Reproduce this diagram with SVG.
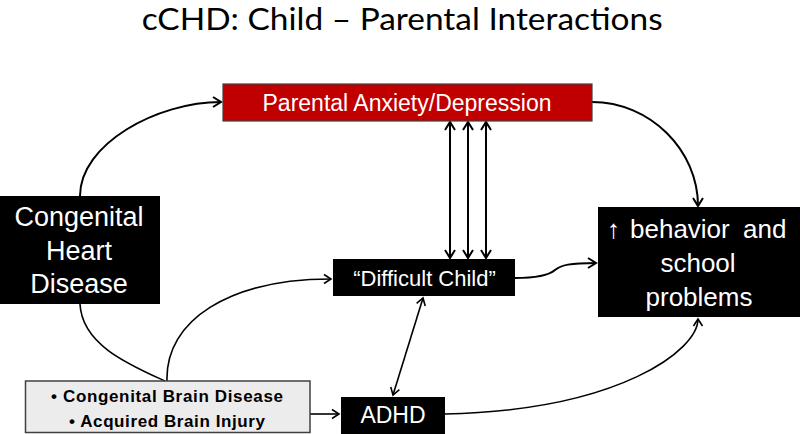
<svg xmlns="http://www.w3.org/2000/svg" width="800" height="434" viewBox="0 0 800 434">
<style>
.title{font-family:Lato,"Open Sans",sans-serif;font-size:30px;fill:#000}
.wt{font-family:"Liberation Sans",Arial,sans-serif;fill:#fff;text-anchor:middle}
.bt{font-family:"Liberation Sans",Arial,sans-serif;font-weight:bold;font-size:17px;fill:#000;text-anchor:middle}
.blk{fill:#000}
.c{fill:none;stroke:#000;stroke-width:2}
.t{fill:none;stroke:#000;stroke-width:1.6}
</style>
<defs>
<marker id="arr" viewBox="-10 -7 12 14" refX="0" refY="0" markerWidth="12" markerHeight="14" markerUnits="userSpaceOnUse" orient="auto-start-reverse">
<path d="M-8,-5 L0,0 L-8,5" fill="none" stroke="#000" stroke-width="2"/>
</marker>
<marker id="arrs" viewBox="-10 -7 12 14" refX="0" refY="0" markerWidth="12" markerHeight="14" markerUnits="userSpaceOnUse" orient="auto-start-reverse">
<path d="M-7,-4.5 L0,0 L-7,4.5" fill="none" stroke="#000" stroke-width="1.6"/>
</marker>
</defs>
<rect width="800" height="434" fill="#fff"/>
<text class="title" x="141.7" y="30" textLength="521" lengthAdjust="spacingAndGlyphs">cCHD: Child – Parental Interactions</text>

<g id="connectors">
<path class="c" d="M80,196 C80,144 157,102 221,102" marker-end="url(#arr)"/>
<path class="c" d="M592,102 C650,102 698,150 698,206" marker-end="url(#arr)"/>
<path class="c" d="M450,122 L450,258" marker-start="url(#arr)" marker-end="url(#arr)"/>
<path class="c" d="M468,122 L468,258" marker-start="url(#arr)" marker-end="url(#arr)"/>
<path class="c" d="M486,122 L486,258" marker-start="url(#arr)" marker-end="url(#arr)"/>
<path class="c" d="M515,278 C535,278 548,276 555,270 C561,265 570,263 596,263" marker-end="url(#arr)"/>
<path class="t" d="M80,304 C82,345 130,365 165,381"/>
<path class="t" d="M167,381 C165,320 230,279 331,279" marker-end="url(#arrs)"/>
<path class="t" d="M423,298 L393,395" marker-start="url(#arrs)" marker-end="url(#arrs)"/>
<path class="t" d="M310,414 L339,414" marker-end="url(#arrs)"/>
<path class="t" d="M445,414 C620,410 698,350 698,319" marker-end="url(#arrs)"/>
</g>

<g id="parental">
<rect x="223" y="84" width="369" height="37" fill="#c00000" stroke="#404040" stroke-width="1.2"/>
<text class="wt" x="407" y="111" font-size="23">Parental Anxiety/Depression</text>
</g>

<g id="chd">
<rect class="blk" x="0" y="196" width="160" height="108"/>
<text class="wt" font-size="27"><tspan x="79" y="226">Congenital</tspan><tspan x="79" y="260">Heart</tspan><tspan x="79" y="293">Disease</tspan></text>
</g>

<g id="difficult">
<rect class="blk" x="333" y="259" width="182" height="37"/>
<text class="wt" x="424.5" y="286" font-size="22">“Difficult Child”</text>
</g>

<g id="behavior">
<rect class="blk" x="598" y="207" width="202" height="110"/>
<text class="wt" font-size="26" style="text-anchor:start"><tspan x="607" y="238">↑</tspan><tspan x="630" y="238">behavior</tspan><tspan x="743" y="238">and</tspan></text>
<text class="wt" font-size="26"><tspan x="698" y="272">school</tspan><tspan x="699" y="305.5">problems</tspan></text>
</g>

<g id="brain">
<rect x="25.5" y="381" width="284.5" height="51.5" fill="#ececec" stroke="#404040" stroke-width="1.5"/>
<text class="bt" x="167" y="402.3" textLength="232" lengthAdjust="spacing">• Congenital Brain Disease</text>
<text class="bt" x="167" y="426.5" textLength="196" lengthAdjust="spacing">• Acquired Brain Injury</text>
</g>

<g id="adhd">
<rect class="blk" x="341" y="397" width="104" height="37"/>
<text class="wt" x="393" y="423" font-size="23">ADHD</text>
</g>
</svg>
